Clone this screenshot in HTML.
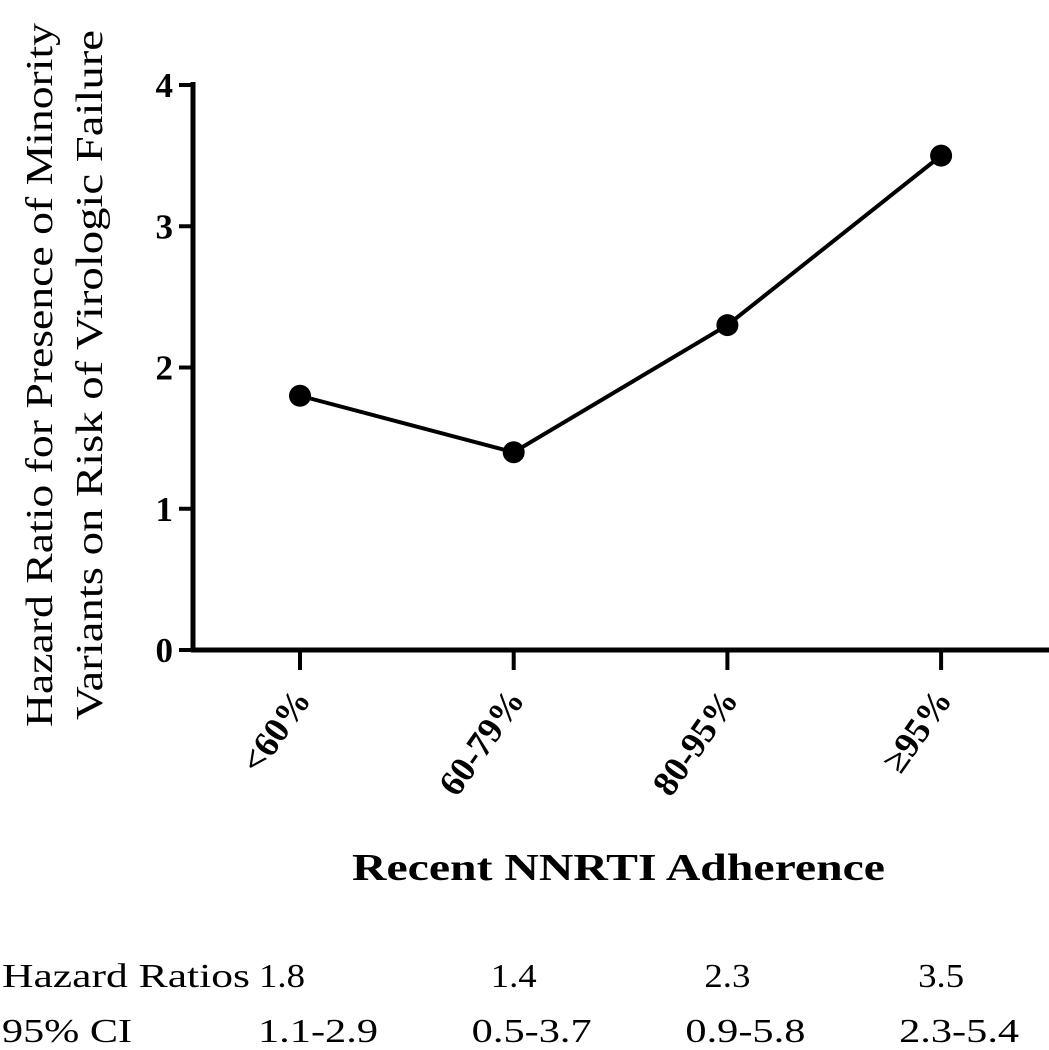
<!DOCTYPE html>
<html><head><meta charset="utf-8"><style>
body{margin:0;background:#fff;}
svg{display:block;font-family:"Liberation Serif",serif;}
</style></head><body>
<svg id="chart" width="1049" height="1050" viewBox="0 0 1049 1050"></svg>
<script>
const categories = ["<60%", "60-79%", "80-95%", "\u226595%"];
const hazardValues = [1.8, 1.4, 2.3, 3.5];
const ciLabels = ["1.1-2.9", "0.5-3.7", "0.9-5.8", "2.3-5.4"];
const yTicks = [0, 1, 2, 3, 4];

const svg = document.getElementById('chart');
const NS = 'http://www.w3.org/2000/svg';
const y0 = 650, yTop = 85, yMax = 4, axisX = 193, xEnd = 1049;
const catX0 = 300, catStep = 213.7;
function yScale(v){ return y0 - (v / yMax) * (y0 - yTop); }
function xScale(i){ return catX0 + i * catStep; }
function mk(tag, attrs, parent){ const e = document.createElementNS(NS, tag); for (const k in attrs) e.setAttribute(k, attrs[k]); (parent||svg).appendChild(e); return e; }

let e = mk('line', {x1:axisX, y1:yTop-3, x2:axisX, y2:y0+2, stroke:'#000', 'stroke-width':5});


e = mk('line', {x1:axisX-2, y1:y0, x2:xEnd, y2:y0, stroke:'#000', 'stroke-width':5});



yTicks.forEach(t => {
  const y = yScale(t);
  const tk = mk('line', {x1:axisX-14, y1:y, x2:axisX, y2:y, stroke:'#000', 'stroke-width':4});
  
  
  const lb = mk('text', {x:axisX-20, y:y+12, 'text-anchor':'end', 'font-size':35, 'font-weight':'bold'});
  lb.textContent = t;
  
  
});

categories.forEach((c, i) => {
  const x = xScale(i);
  const tk = mk('line', {x1:x, y1:y0, x2:x, y2:y0+20, stroke:'#000', 'stroke-width':4});
  
  
  const lb = mk('text', {x:x+12, y:y0+50, 'text-anchor':'end', 'font-size':36, 'font-weight':'bold', transform:`rotate(-55 ${x+12} ${y0+50})`});
  lb.textContent = c;
  
  
});

const pts = hazardValues.map((v, i) => `${xScale(i)},${yScale(v)}`).join(' ');
e = mk('polyline', {points:pts, fill:'none', stroke:'#000', 'stroke-width':4});


hazardValues.forEach((v, i) => {
  const p = mk('circle', {cx:xScale(i), cy:yScale(v), r:11, fill:'#000'});
  
  
});

e = mk('text', {x:352, y:880, 'font-size':38, 'font-weight':'bold', textLength:533, lengthAdjust:'spacingAndGlyphs'});
e.textContent = 'Recent NNRTI Adherence';


const yt = mk('text', {x:0, y:0, 'font-size':38, transform:'translate(52,375) rotate(-90)'});


const s1 = mk('tspan', {x:-352, y:0, textLength:704, lengthAdjust:'spacingAndGlyphs'}, yt); s1.textContent = 'Hazard Ratio for Presence of Minority';
const s2 = mk('tspan', {x:-345, y:50, textLength:690, lengthAdjust:'spacingAndGlyphs'}, yt); s2.textContent = 'Variants on Risk of Virologic Failure';

e = mk('text', {x:2, y:987, 'font-size':34, textLength:248, lengthAdjust:'spacingAndGlyphs'});
e.textContent = 'Hazard Ratios';


e = mk('text', {x:2, y:1042, 'font-size':34, textLength:130, lengthAdjust:'spacingAndGlyphs'});
e.textContent = '95% CI';


hazardValues.forEach((v, i) => {
  const t = mk('text', {x:xScale(i) - (i === 0 ? 18 : 0), y:987, 'text-anchor':'middle', 'font-size':34, textLength:46, lengthAdjust:'spacingAndGlyphs'});
  t.textContent = v.toFixed(1);
  
  
});
ciLabels.forEach((c, i) => {
  const t = mk('text', {x:xScale(i) + 18, y:1042, 'text-anchor':'middle', 'font-size':34, textLength:120, lengthAdjust:'spacingAndGlyphs'});
  t.textContent = c;
  
  
});
</script>
</body></html>
